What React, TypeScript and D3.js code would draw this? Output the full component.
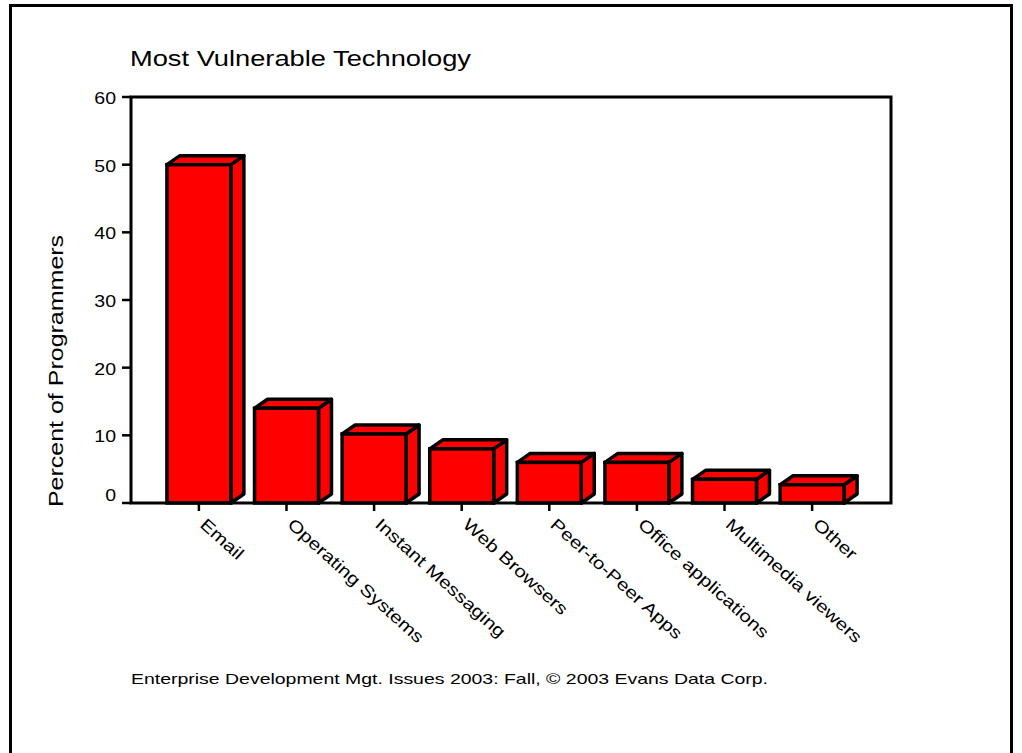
import { useEffect, useRef } from 'react';
import * as d3 from 'd3';

const categories = [
  'Email',
  'Operating Systems',
  'Instant Messaging',
  'Web Browsers',
  'Peer-to-Peer Apps',
  'Office applications',
  'Multimedia viewers',
  'Other',
];
const percentValues = [50, 14, 10.2, 8, 6, 6, 3.5, 2.7];
const yTicks = [0, 10, 20, 30, 40, 50, 60];

const titleText = 'Most Vulnerable Technology';
const yLabelText = 'Percent of Programmers';
const footerText = 'Enterprise Development Mgt. Issues 2003: Fall, \u00a9 2003 Evans Data Corp.';

const FONT = '"Liberation Sans", Arial, sans-serif';

export default function App() {
  const svgRef = useRef<SVGSVGElement>(null);

  useEffect(() => {
    if (!svgRef.current) return;
    const svg = d3.select(svgRef.current);
    svg.selectAll('*').remove();

    const frame = { left: 131, right: 891, top: 97, bottom: 503 };
    const depth = { dx: 13, dy: 9 };
    const stretch = 1.22; // glyphs in the source are wider than Arial

    // outer border
    svg.append('rect')
      .attr('x', 10.5)
      .attr('y', 5.5)
      .attr('width', 1001)
      .attr('height', 800)
      .attr('fill', '#fff')
      .attr('stroke', '#000')
      .attr('stroke-width', 3);

    // Scales
    const x = d3.scaleBand<string>()
      .domain(categories)
      .range([frame.left, frame.right - 11])
      .paddingInner(0.27)
      .paddingOuter(0.41);

    const y = d3.scaleLinear()
      .domain([0, 60])
      .range([frame.bottom, frame.top]);

    // Title
    svg.append('text')
      .attr('transform', `translate(130,66) scale(1.24,1)`)
      .attr('font-family', FONT)
      .attr('font-size', 22)
      .attr('fill', '#000')
      .text(titleText);

    // Bars (3D look: side, top, front)
    const bars = svg.append('g')
      .selectAll('g')
      .data(categories)
      .join('g');

    bars.append('path')
      .attr('d', (c, i) => {
        const x0 = x(c)! + x.bandwidth();
        const yt = y(percentValues[i]);
        const yb = y(0);
        return `M${x0},${yt}L${x0 + depth.dx},${yt - depth.dy}L${x0 + depth.dx},${yb - depth.dy}L${x0},${yb}Z`;
      })
      .attr('fill', '#ff0000')
      .attr('stroke', '#000')
      .attr('stroke-width', 3.5)
      .attr('stroke-linejoin', 'round');

    bars.append('path')
      .attr('d', (c, i) => {
        const x0 = x(c)!;
        const x1 = x0 + x.bandwidth();
        const yt = y(percentValues[i]);
        return `M${x0},${yt}L${x0 + depth.dx},${yt - depth.dy}L${x1 + depth.dx},${yt - depth.dy}L${x1},${yt}Z`;
      })
      .attr('fill', '#ff0000')
      .attr('stroke', '#000')
      .attr('stroke-width', 3.5)
      .attr('stroke-linejoin', 'round');

    bars.append('rect')
      .attr('x', c => x(c)!)
      .attr('y', (c, i) => y(percentValues[i]))
      .attr('width', x.bandwidth())
      .attr('height', (c, i) => y(0) - y(percentValues[i]))
      .attr('fill', '#ff0000')
      .attr('stroke', '#000')
      .attr('stroke-width', 3.5);

    // Frame
    svg.append('rect')
      .attr('x', frame.left)
      .attr('y', frame.top)
      .attr('width', frame.right - frame.left)
      .attr('height', frame.bottom - frame.top)
      .attr('fill', 'none')
      .attr('stroke', '#000')
      .attr('stroke-width', 3);

    // Y axis ticks + labels
    const yAxis = svg.append('g');
    yAxis.selectAll('line')
      .data(yTicks)
      .join('line')
      .attr('x1', frame.left - 9)
      .attr('x2', frame.left)
      .attr('y1', d => y(d))
      .attr('y2', d => y(d))
      .attr('stroke', '#000')
      .attr('stroke-width', 2.5);

    yAxis.selectAll('text')
      .data(yTicks)
      .join('text')
      .attr('transform', d => `translate(116,${y(d) + (d === 0 ? -2 : 7)}) scale(${stretch},1)`)
      .attr('text-anchor', 'end')
      .attr('font-family', FONT)
      .attr('font-size', 16)
      .attr('fill', '#000')
      .text(d => d3.format('d')(d));

    // X axis ticks + rotated labels
    const xAxis = svg.append('g');
    xAxis.selectAll('line')
      .data(categories)
      .join('line')
      .attr('x1', c => x(c)! + x.bandwidth() / 2)
      .attr('x2', c => x(c)! + x.bandwidth() / 2)
      .attr('y1', frame.bottom)
      .attr('y2', frame.bottom + 8)
      .attr('stroke', '#000')
      .attr('stroke-width', 2.5);

    xAxis.selectAll('text')
      .data(categories)
      .join('text')
      .attr('transform', c => `translate(${x(c)! + x.bandwidth() / 2},526) rotate(42) scale(${stretch},1)`)
      .attr('font-family', FONT)
      .attr('font-size', 17)
      .attr('fill', '#000')
      .text(c => c);

    // Y axis title
    svg.append('text')
      .attr('transform', `translate(63,371) rotate(-90) scale(1.19,1)`)
      .attr('text-anchor', 'middle')
      .attr('font-family', FONT)
      .attr('font-size', 21)
      .attr('fill', '#000')
      .text(yLabelText);

    // Footer
    svg.append('text')
      .attr('x', 131)
      .attr('y', 684)
      .attr('textLength', 637)
      .attr('lengthAdjust', 'spacingAndGlyphs')
      .attr('font-family', FONT)
      .attr('font-size', 15)
      .attr('fill', '#000')
      .text(footerText);
  }, []);

  return (
    <svg
      ref={svgRef}
      width={1022}
      height={753}
      style={{ position: 'absolute', left: 0, top: 0, display: 'block', background: '#fff' }}
    />
  );
}
